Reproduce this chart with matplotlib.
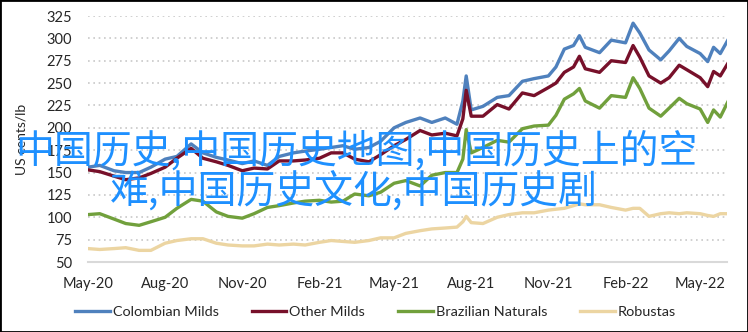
import matplotlib
matplotlib.use("Agg")
import matplotlib.pyplot as plt
import matplotlib.dates as mdates
from matplotlib.patches import Rectangle
import pandas as pd

dates = pd.to_datetime([
    "2020-05-01", "2020-05-15", "2020-06-01", "2020-06-15", "2020-07-01", "2020-07-15",
    "2020-08-01", "2020-08-15", "2020-09-01", "2020-09-15", "2020-10-01", "2020-10-15",
    "2020-11-01", "2020-11-15", "2020-12-01", "2020-12-15", "2021-01-01", "2021-01-15",
    "2021-02-01", "2021-02-15", "2021-03-01", "2021-03-15", "2021-04-01", "2021-04-15",
    "2021-05-01", "2021-05-15", "2021-06-01", "2021-06-15", "2021-07-01", "2021-07-15",
    "2021-07-22", "2021-07-26", "2021-08-01", "2021-08-15", "2021-09-01", "2021-09-15",
    "2021-10-01", "2021-10-15", "2021-11-01", "2021-11-10", "2021-11-20", "2021-12-01",
    "2021-12-08", "2021-12-15", "2022-01-01", "2022-01-15", "2022-02-01", "2022-02-10",
    "2022-02-18", "2022-03-01", "2022-03-15", "2022-03-25", "2022-04-06", "2022-04-15",
    "2022-05-01", "2022-05-10", "2022-05-17", "2022-05-25", "2022-06-03",
])

colombian_milds = [156, 158, 152, 150, 150, 156, 165, 168, 182, 172, 167, 164,
                   160, 163, 158, 168, 172, 174, 176, 178, 180, 176, 178, 185,
                   200, 206, 211, 206, 211, 204, 230, 258, 220, 224, 234, 236,
                   252, 255, 258, 268, 288, 292, 303, 290, 284, 298, 295, 317,
                   306, 287, 276, 286, 300, 291, 283, 274, 290, 283, 298]
other_milds = [153, 151, 146, 142, 144, 149, 156, 166, 177, 166, 162, 158,
               152, 155, 154, 163, 163, 164, 166, 172, 172, 165, 162, 170,
               180, 187, 197, 192, 194, 191, 210, 242, 213, 213, 226, 221,
               239, 236, 245, 250, 262, 268, 280, 266, 262, 275, 273, 292,
               279, 258, 250, 256, 270, 265, 256, 246, 263, 258, 272]
brazilian_naturals = [103, 104, 98, 93, 91, 95, 100, 110, 120, 118, 106, 101,
                      99, 104, 111, 113, 116, 118, 119, 117, 118, 126, 124, 128,
                      138, 141, 135, 147, 150, 150, 165, 198, 172, 178, 186, 184,
                      199, 202, 203, 214, 232, 238, 244, 230, 222, 236, 234, 256,
                      244, 222, 213, 222, 233, 227, 221, 206, 220, 212, 229]
robustas = [65, 64, 65, 66, 63, 63, 71, 74, 76, 76, 71, 69,
            68, 68, 70, 69, 70, 69, 72, 74, 73, 72, 74, 77,
            77, 82, 85, 87, 88, 89, 95, 101, 94, 93, 100, 103,
            105, 105, 108, 109, 110, 113, 115, 114, 114, 111, 108, 110,
            110, 101, 104, 105, 104, 105, 104, 102, 101, 104, 104]

series = ["Colombian Milds", "Other Milds", "Brazilian Naturals", "Robustas"]
colors = ["#4f81bd", "#77102a", "#71a03c", "#ecd5a2"]
yticks = [50, 75, 100, 125, 150, 175, 200, 225, 250, 275, 300, 325]

font = "Lato"
fig = plt.figure(figsize=(7.48, 3.32), dpi=100)
ax = fig.add_axes([88 / 748, 70 / 332, 639 / 748, 246 / 332])

for name, vals, c in zip(series, [colombian_milds, other_milds, brazilian_naturals, robustas], colors):
    ax.plot(dates, vals, color=c, lw=2.4, label=name, solid_joinstyle="round")

ax.set_ylim(50, 325)
ax.set_yticks(yticks)
ax.set_xlim(pd.Timestamp("2020-05-01"), pd.Timestamp("2022-06-02"))
ax.xaxis.set_major_locator(mdates.MonthLocator(bymonth=[2, 5, 8, 11]))
ax.xaxis.set_major_formatter(mdates.DateFormatter("%b-%y"))

ax.grid(axis="y", color="#c8c8c8", linestyle=(0, (1, 2.2)), linewidth=1.2)
ax.set_axisbelow(True)
for s in ["top", "right", "left"]:
    ax.spines[s].set_visible(False)
ax.spines["bottom"].set_color("#d9d9d9")
ax.spines["bottom"].set_linewidth(1.5)
ax.tick_params(length=0, labelsize=10.5, colors="#262626")
ax.tick_params(axis="y", pad=11.5)
ax.tick_params(axis="x", pad=11)
for lab in ax.get_xticklabels() + ax.get_yticklabels():
    lab.set_family(font)

ax.set_ylabel("US cents/lb", fontsize=10, color="#262626", family=font)
ax.yaxis.set_label_coords((27 - 88) / 639, 0.5)

fig.legend(loc="center", bbox_to_anchor=(0.502, 1 - 312 / 332), ncol=4, frameon=False,
           handlelength=2.4, handletextpad=0.2, columnspacing=2.3,
           prop={"family": font, "size": 10.4})
for t in fig.legends[0].get_texts():
    t.set_color("#262626")

overlay = ["中国历史,中国历史地图,中国历史上的空", "难,中国历史文化,中国历史剧"]
fig.text(15 / 748, 1 - 151 / 332, overlay[0], fontsize=28, color="#1e90ff",
         family=["Noto Sans CJK SC", "DejaVu Sans"], va="center", ha="left")
fig.text(110 / 748, 1 - 192 / 332, overlay[1], fontsize=28, color="#1e90ff",
         family=["Noto Sans CJK SC", "DejaVu Sans"], va="center", ha="left")

fig.patches.append(Rectangle((0, 0), 1, 1, transform=fig.transFigure, fill=False,
                             edgecolor="black", linewidth=2))
fig.savefig("out.png", dpi=100)
